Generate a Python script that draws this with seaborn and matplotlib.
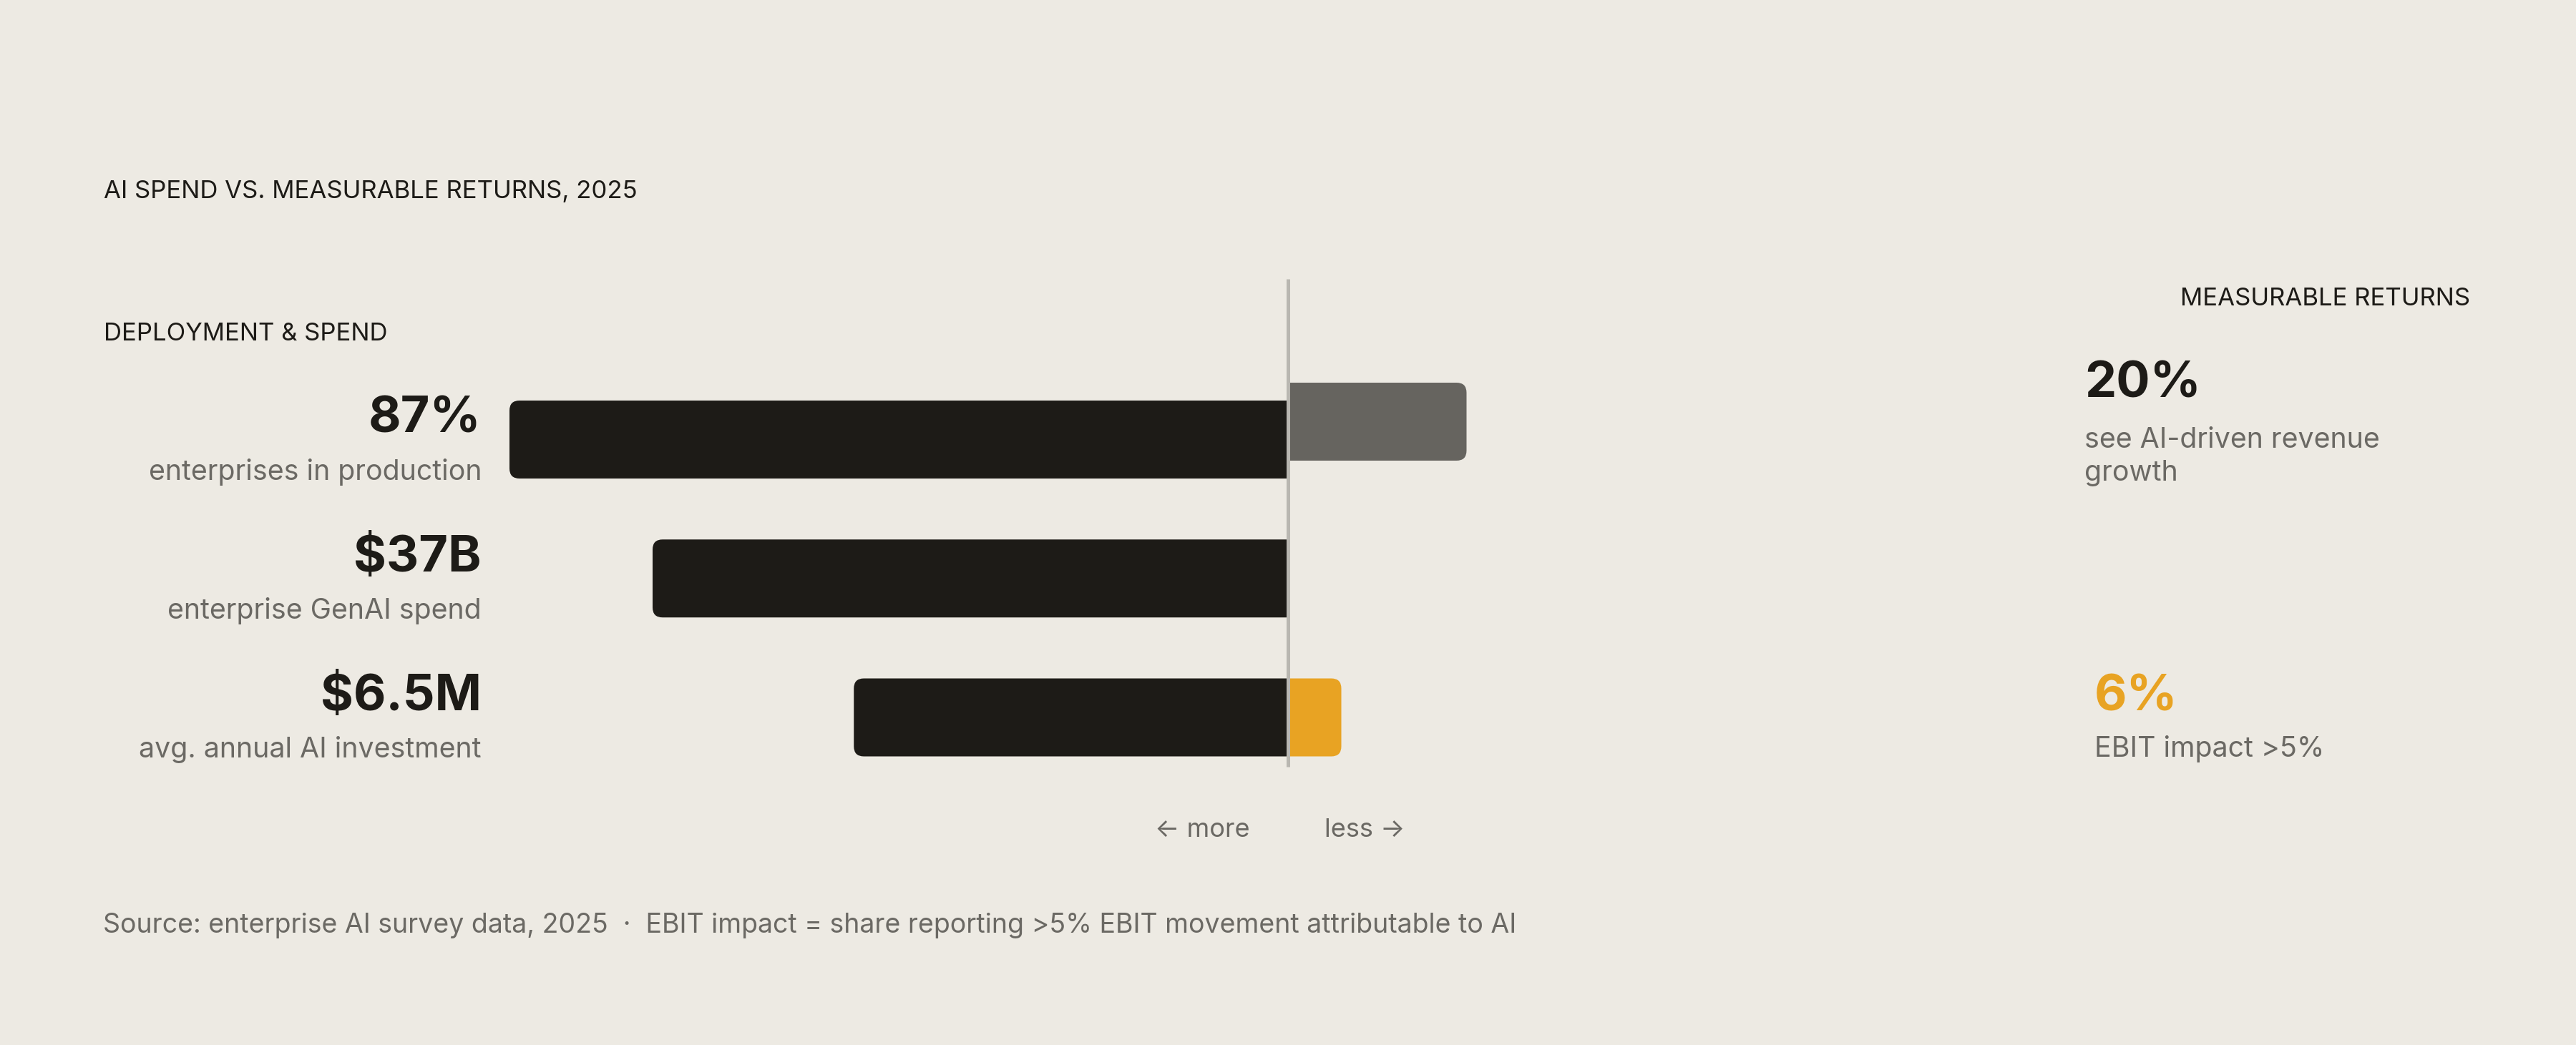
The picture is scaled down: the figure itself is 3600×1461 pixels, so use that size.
import numpy as np
import pandas as pd
import matplotlib
matplotlib.use("Agg")
import matplotlib.pyplot as plt
import seaborn as sns
from matplotlib.patches import FancyBboxPatch, Rectangle

# ---------------- data ----------------
categories = ["production", "genai_spend", "ai_investment"]
spend_values = ["87%", "$37B", "$6.5M"]
spend_labels = ["enterprises in production", "enterprise GenAI spend", "avg. annual AI investment"]
spend_bar = [87, 71, 48.5]          # bar length (index, % scale)
return_bar = [20, np.nan, 6]        # measurable returns, %
return_values = ["20%", None, "6%"]
return_labels = ["see AI-driven revenue\ngrowth", None, "EBIT impact >5%"]
title = "AI SPEND VS. MEASURABLE RETURNS, 2025"
left_header = "DEPLOYMENT & SPEND"
right_header = "MEASURABLE RETURNS"
footer = "Source: enterprise AI survey data, 2025  ·  EBIT impact = share reporting >5% EBIT movement attributable to AI"

# ---------------- style / layout ----------------
BG = "#EDEAE3"
DARK = "#1D1B17"
GRAY_BAR = "#66645F"
ORANGE = "#E8A323"
SUB = "#6B6964"
LINE = "#B9B7B1"

W, H, DPI = 3600, 1461, 100
CX = 1799.5          # pixel x of the zero line
PXU = 12.5           # pixels per value unit
ROW0 = 614.5         # pixel y of first row centre
STEP = 194.25        # pixels between rows
BAR_H = 109          # bar height in pixels
RADIUS_PX = 14
ROW0_RETURN_SHIFT = -25  # px, the first return bar sits a bit higher

sns.set_theme(style="white")
plt.rcParams["font.family"] = ["Inter", "DejaVu Sans"]

def dx(px):
    return (px - CX) / PXU

def dy(px):
    return (px - ROW0) / STEP

fig = plt.figure(figsize=(W / DPI, H / DPI), dpi=DPI, facecolor=BG)
ax = fig.add_axes([0, 0, 1, 1])
ax.set_facecolor(BG)

df = pd.DataFrame({"cat": categories,
                   "spend": -np.array(spend_bar, dtype=float),
                   "ret": np.array(return_bar, dtype=float)})

width = BAR_H / STEP
sns.barplot(data=df, y="cat", x="spend", color=DARK, saturation=1,
            width=width, orient="h", ax=ax, errorbar=None)
sns.barplot(data=df.dropna(subset=["ret"]), y="cat", x="ret", hue="cat",
            hue_order=categories, order=categories,
            palette={categories[0]: GRAY_BAR, categories[1]: GRAY_BAR, categories[2]: ORANGE},
            saturation=1, width=width, orient="h", ax=ax, errorbar=None, legend=False)

ax.set_xlim(dx(0), dx(W))
ax.set_ylim(dy(H), dy(0))
ax.axis("off")

# ---- turn the bars into rounded bars (outer end rounded, zero end square) ----
r = RADIUS_PX / PXU
aspect = PXU / STEP
for p in list(ax.patches):
    x, y, w, h = p.get_x(), p.get_y(), p.get_width(), p.get_height()
    fc = p.get_facecolor()
    p.remove()
    if not np.isfinite(w) or w == 0:
        continue
    row = int(round(y + h / 2))
    if w > 0 and row == 0:
        y += ROW0_RETURN_SHIFT / STEP
    if w < 0:
        bx, bw = x + w, -w + 2 * r
        clip = Rectangle((x + w - 1, y - 0.5), -w + 1, h + 1, transform=ax.transData)
    else:
        bx, bw = x - 2 * r, w + 2 * r
        clip = Rectangle((x, y - 0.5), w + 1, h + 1, transform=ax.transData)
    fb = FancyBboxPatch((bx, y), bw, h,
                        boxstyle=f"round,pad=0,rounding_size={r}",
                        mutation_aspect=aspect, facecolor=fc,
                        edgecolor="none", zorder=2)
    ax.add_patch(fb)
    fb.set_clip_path(clip)

# zero line
ax.vlines(0, dy(390), dy(1072), color=LINE, lw=3.6, zorder=3)

# ---- texts ----
F_HEAD = 25
F_BIG = 50.5
F_SUB = 28.3
F_FOOT = 27

ax.text(dx(145), dy(277), title, fontsize=F_HEAD, color=DARK, ha="left", va="baseline")
ax.text(dx(145), dy(476), left_header, fontsize=F_HEAD, color=DARK, ha="left", va="baseline")
ax.text(dx(3452), dy(427), right_header, fontsize=F_HEAD, color=DARK, ha="right", va="baseline")

for i in range(len(categories)):
    ax.text(dx(673), i + (-10) / STEP, spend_values[i], fontsize=F_BIG,
            fontweight="bold", color=DARK, ha="right", va="baseline")
    ax.text(dx(673), i + 56 / STEP, spend_labels[i], fontsize=F_SUB,
            color=SUB, ha="right", va="baseline")

ret_x = [2913, None, 2927]
ret_num_base = [555, None, 993]
ret_lab_base = [672, None, 1058]   # baseline of the last line
for i in range(len(categories)):
    if return_values[i] is None:
        continue
    col = ORANGE if i == 2 else DARK
    ax.text(dx(ret_x[i]), dy(ret_num_base[i]), return_values[i], fontsize=F_BIG,
            fontweight="bold", color=col, ha="left", va="baseline")
    ax.text(dx(ret_x[i]), dy(ret_lab_base[i]), return_labels[i], fontsize=F_SUB,
            color=SUB, ha="left", va="baseline", linespacing=1.3)

ax.text(dx(1747), dy(1170), "← more", fontsize=26, color=SUB, ha="right", va="baseline")
ax.text(dx(1851), dy(1170), "less →", fontsize=26, color=SUB, ha="left", va="baseline")

ax.text(dx(144), dy(1304), footer, fontsize=F_FOOT, color=SUB, ha="left", va="baseline")

fig.savefig("out.png", dpi=DPI, facecolor=BG)
